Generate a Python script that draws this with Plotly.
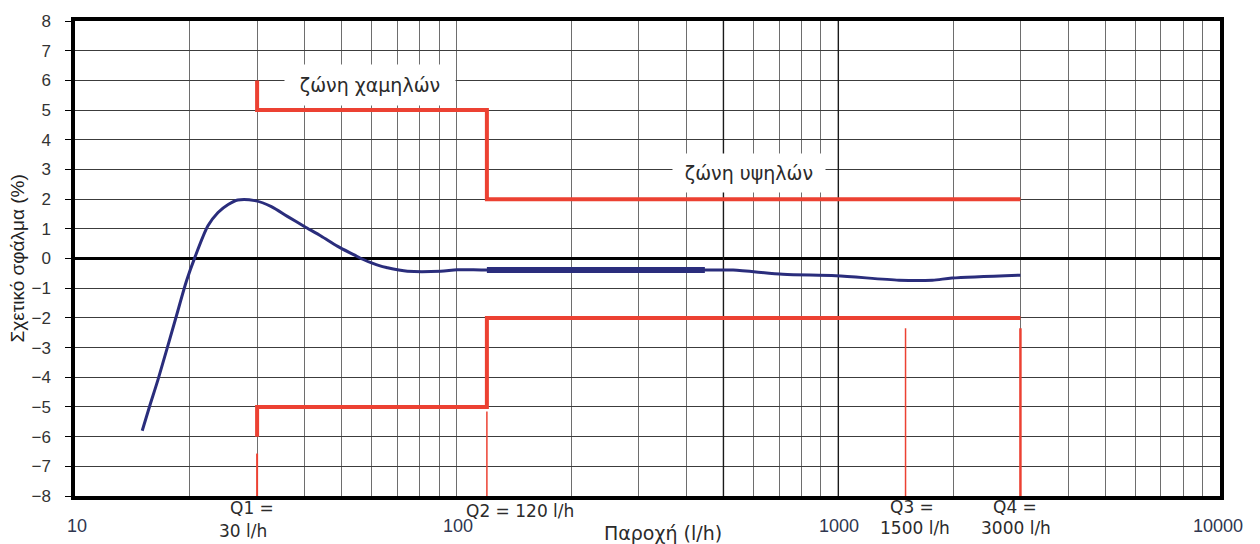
import numpy as np
import plotly.graph_objects as go

# Meter error curve: flow rate (l/h) vs relative error (%)
flow = [15, 15.7, 16.5, 18.3, 19.6, 20.6, 22.3, 23.7, 25.2, 26.7, 29.6, 32.7,
        36.1, 39.9, 44.2, 48.8, 53.9, 56.1, 59.6, 63, 65.9, 70, 74.3, 90.8, 100.4,
        120, 447, 530, 716, 986, 1442, 1763, 1986, 3000]
error = [-5.80, -4.96, -4.08, -2.08, -0.75, 0.03, 1.10, 1.55, 1.82, 1.97, 1.95, 1.75,
         1.41, 1.08, 0.75, 0.41, 0.12, 0.0, -0.14, -0.25, -0.31, -0.38, -0.43, -0.43, -0.38,
         -0.39, -0.39, -0.39, -0.53, -0.58, -0.73, -0.73, -0.66, -0.56]

# Highlighted stretch of the curve
bold_flow = [120, 447]
bold_error = [-0.39, -0.39]

# Maximum permissible error envelope (lower zone ±5 %, upper zone ±2 %)
zone_flow = [30, 30, 120, 120, 3000]
zone_upper = [6, 5, 5, 2, 2]
zone_lower = [-6, -5, -5, -2, -2]

# Characteristic flow rates and the height of their marker lines
q_names = ["Q1", "Q2", "Q3", "Q4"]
q_values = [30, 120, 1500, 3000]
q_marker_top = [-6.57, -5.15, -2.35, -2.35]

y_ticks = list(range(-8, 9))
x_grid = [m * 10 ** e for e in range(1, 4) for m in range(1, 10)] + [10000]
x_tick_labels = ["10", "100", "1000", "10000"]
dark_grid = [500, 1000]

RED = "#ec4132"
BLUE = "#2a2d7c"

fig = go.Figure()

# darker vertical grid lines
for g in dark_grid:
    fig.add_trace(go.Scatter(x=[g, g], y=[-8, 8], mode="lines",
                             line=dict(color="#1a1a1a", width=1.4),
                             hoverinfo="skip", showlegend=False))

# envelope
for yv in (zone_upper, zone_lower):
    fig.add_trace(go.Scatter(x=zone_flow, y=yv, mode="lines",
                             line=dict(color=RED, width=4),
                             hoverinfo="skip", showlegend=False))

# Q marker lines
q_widths = [2, 1.5, 1.5, 2.5]
for q, top, w in zip(q_values, q_marker_top, q_widths):
    fig.add_trace(go.Scatter(x=[q, q], y=[-8, top], mode="lines",
                             line=dict(color=RED, width=w),
                             hoverinfo="skip", showlegend=False))

# error curve
fig.add_trace(go.Scatter(x=flow, y=error, mode="lines",
                         line=dict(color=BLUE, width=3, shape="spline", smoothing=0.8),
                         hoverinfo="skip", showlegend=False))
fig.add_trace(go.Scatter(x=bold_flow, y=bold_error, mode="lines",
                         line=dict(color=BLUE, width=6),
                         hoverinfo="skip", showlegend=False))

annotations = []
text_font = dict(family="DejaVu Sans", size=17, color="#2b2b2b")
zone_font = dict(family="DejaVu Sans", size=19, color="#2b2b2b")

# x tick labels
for lbl, shift in zip(x_tick_labels, [2, 1, 1, -2]):
    annotations.append(dict(x=np.log10(float(lbl)), y=0, xref="x", yref="paper",
                            text=lbl, showarrow=False, xanchor="center", yanchor="middle",
                            xshift=shift, yshift=-30,
                            font=dict(family="Liberation Sans", size=18, color="#2f3650")))

# Q labels (line text, x offset, y offset)
q_label_layout = {
    "Q1": [("Q1 =", -5, -12), ("30 l/h", -14, -35)],
    "Q2": [("Q2 = 120 l/h", 33, -15)],
    "Q3": [("Q3 =", 6, -11), ("1500 l/h", 9, -32)],
    "Q4": [("Q4 =", -5, -11), ("3000 l/h", -4, -32)],
}
for name, q in zip(q_names, q_values):
    for txt, dx, dy in q_label_layout[name]:
        annotations.append(dict(x=np.log10(q), y=0, xref="x", yref="paper",
                                text=txt, showarrow=False, xanchor="center",
                                yanchor="middle", xshift=dx, yshift=dy, font=text_font))

# zone labels on white boxes
annotations.append(dict(x=1.773, y=5.86, xref="x", yref="y", text="ζώνη χαμηλών",
                        showarrow=False, bgcolor="white", width=170, height=40,
                        borderpad=0, font=zone_font))
annotations.append(dict(x=2.766, y=2.88, xref="x", yref="y", text="ζώνη υψηλών",
                        showarrow=False, bgcolor="white", width=152, height=38,
                        borderpad=0, font=zone_font))

# axis titles
annotations.append(dict(x=0.5135, y=0, xref="paper", yref="paper", text="Παροχή (l/h)",
                        showarrow=False, xanchor="center", yanchor="middle", yshift=-37,
                        font=dict(family="DejaVu Sans", size=19, color="#2b2b2b")))
annotations.append(dict(x=-0.0498, y=0.5, xref="paper", yref="paper",
                        text="Σχετικό σφάλμα (%)", textangle=-90, showarrow=False,
                        xanchor="center", yanchor="middle",
                        font=dict(family="Liberation Sans", size=19, color="#222222")))

fig.update_layout(
    width=1260, height=544,
    margin=dict(l=75, r=40, t=19, b=48),
    paper_bgcolor="white", plot_bgcolor="white",
    annotations=annotations,
    xaxis=dict(type="log", range=[1, 4], tickvals=x_grid, showticklabels=False,
               ticks="", showgrid=True, gridcolor="#6e6e6e", gridwidth=1,
               showline=True, linecolor="black", linewidth=3.5, mirror=True,
               zeroline=False),
    yaxis=dict(range=[-8, 8], tickvals=y_ticks, ticks="outside", ticklen=6,
               tickcolor="black", tickwidth=1, ticklabelstandoff=11,
               tickfont=dict(family="Liberation Sans", size=17, color="#333333"),
               showgrid=True, gridcolor="#3c3c3c", gridwidth=1,
               showline=True, linecolor="black", linewidth=3.5, mirror=True,
               zeroline=True, zerolinecolor="black", zerolinewidth=3),
)

fig.write_html("out.html")
